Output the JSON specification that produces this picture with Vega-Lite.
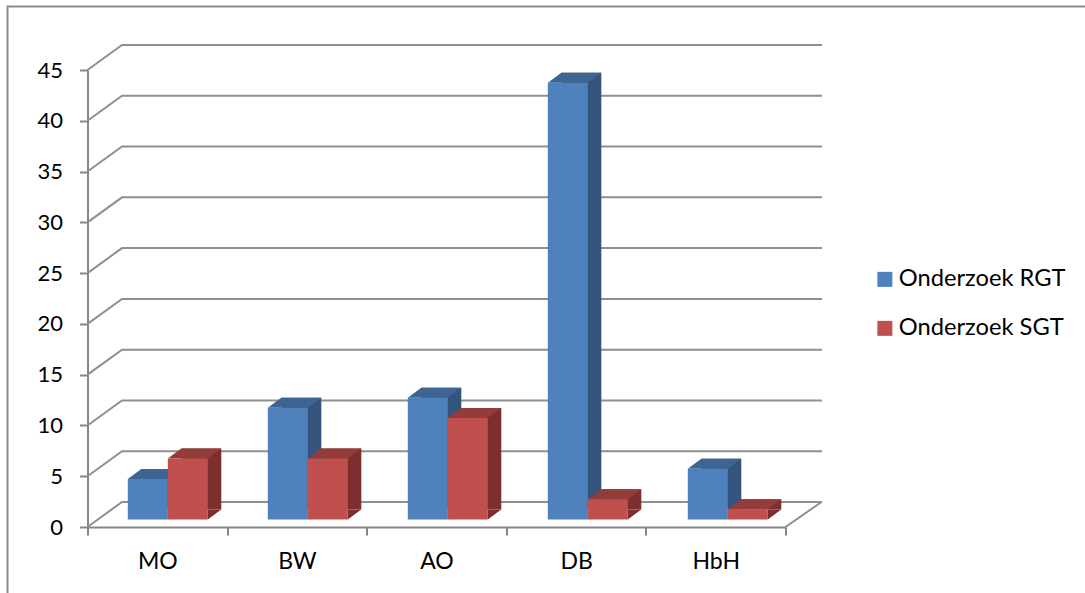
{
  "$schema": "https://vega.github.io/schema/vega-lite/v6.json",
  "width": 698,
  "height": 457,
  "autosize": "none",
  "padding": {"left": 87.5, "top": 70, "right": 299.5, "bottom": 66},
  "background": "white",
  "config": {"view": {"stroke": null}, "font": "Lato"},
  "resolve": {"scale": {"x": "independent", "y": "independent", "xOffset": "independent"}},
  "datasets": {
    "bars": [
      {"cat": "MO", "series": "Onderzoek RGT", "value": 4},
      {"cat": "MO", "series": "Onderzoek SGT", "value": 6},
      {"cat": "BW", "series": "Onderzoek RGT", "value": 11},
      {"cat": "BW", "series": "Onderzoek SGT", "value": 6},
      {"cat": "AO", "series": "Onderzoek RGT", "value": 12},
      {"cat": "AO", "series": "Onderzoek SGT", "value": 10},
      {"cat": "DB", "series": "Onderzoek RGT", "value": 43},
      {"cat": "DB", "series": "Onderzoek SGT", "value": 2},
      {"cat": "HbH", "series": "Onderzoek RGT", "value": 5},
      {"cat": "HbH", "series": "Onderzoek SGT", "value": 1}
    ],
    "grid": [{"v": 0}, {"v": 5}, {"v": 10}, {"v": 15}, {"v": 20}, {"v": 25}, {"v": 30}, {"v": 35}, {"v": 40}, {"v": 45}]
  },
  "layer": [
    {
      "encoding": {
        "x": {"datum": "MO", "type": "nominal", "scale": {"domain": ["MO", "BW", "AO", "DB", "HbH"], "paddingInner": 0, "paddingOuter": 0},
          "axis": {"title": null, "orient": "bottom", "domainColor": "#868686", "domainWidth": 2, "tickColor": "#868686", "tickWidth": 2, "tickSize": 8, "tickBand": "extent", "labelAngle": 0, "labelFont": "Lato", "labelFontSize": 23, "labelColor": "#000000", "labelPadding": 15}},
        "y": {"field": "v", "type": "quantitative", "scale": {"domain": [0, 45], "nice": false},
          "axis": {"title": null, "values": [0, 5, 10, 15, 20, 25, 30, 35, 40, 45], "grid": false, "domainColor": "#868686", "domainWidth": 2, "tickColor": "#868686", "tickWidth": 2, "tickSize": 8, "labelFont": "Lato", "labelFontSize": 22, "labelColor": "#000000", "labelPadding": 17}}
      },
      "layer": [
        {
          "data": {"values": [{"v": 0}]},
          "mark": {"type": "point", "filled": false, "opacity": 1, "strokeWidth": 2, "stroke": "#8c8c8c", "shape": "M-149.8,66L-149.8,-520.5L927.7,-520.5", "size": 4}
        },
        {
          "data": {"name": "grid"},
          "mark": {"type": "point", "filled": false, "opacity": 1, "strokeWidth": 2, "stroke": "#8f8f8f", "shape": "M-69.8,0L-35.3,-25L664.7,-25", "size": 4}
        },
        {
          "data": {"values": [{"v": 0}]},
          "mark": {"type": "point", "filled": false, "opacity": 1, "strokeWidth": 2, "stroke": "#8f8f8f", "shape": "M69.8,0L105.8,-25", "size": 4},
          "encoding": {"x": {"datum": "HbH", "type": "nominal"}}
        }
      ]
    },
    {
      "data": {"name": "bars"},
      "transform": [{"filter": "datum.series === 'Onderzoek RGT'"}],
      "encoding": {
        "x": {"field": "cat", "type": "nominal", "scale": {"domain": ["MO", "BW", "AO", "DB", "HbH"], "paddingInner": 0, "paddingOuter": 0, "range": [23.8, 723.8]}, "axis": null},
        "xOffset": {"field": "series", "type": "nominal", "scale": {"domain": ["Onderzoek RGT", "Onderzoek SGT"], "paddingInner": 0, "paddingOuter": 0.75}},
        "y": {"field": "value", "type": "quantitative", "stack": null, "scale": {"domain": [0, 45], "nice": false, "range": [439.5, -17.5]}, "axis": null}
      },
      "layer": [
        {"mark": {"type": "bar", "color": "#33547c"}},
        {"mark": {"type": "point", "filled": true, "opacity": 1, "strokeWidth": 0, "color": "#33547c", "shape": "M6.5,10L6.5,0L20,0Z", "size": 4},
         "encoding": {"y": {"datum": 0, "type": "quantitative"}}},
        {"mark": {"type": "point", "filled": true, "opacity": 1, "strokeWidth": 0, "color": "#3d6492", "shape": "M-33.5,10L6.5,10L20,0L-20,0Z", "size": 4}}
      ]
    },
    {
      "data": {"name": "bars"},
      "transform": [{"filter": "datum.series === 'Onderzoek RGT'"}],
      "mark": {"type": "bar"},
      "encoding": {
        "x": {"field": "cat", "type": "nominal", "scale": {"domain": ["MO", "BW", "AO", "DB", "HbH"], "paddingInner": 0, "paddingOuter": 0, "range": [10.3, 710.3]}, "axis": null},
        "xOffset": {"field": "series", "type": "nominal", "scale": {"domain": ["Onderzoek RGT", "Onderzoek SGT"], "paddingInner": 0, "paddingOuter": 0.75}},
        "y": {"field": "value", "type": "quantitative", "stack": null, "scale": {"domain": [0, 45], "nice": false, "range": [449.5, -7.5]}, "axis": null},
        "color": {"field": "series", "type": "nominal", "scale": {"domain": ["Onderzoek RGT", "Onderzoek SGT"], "range": ["#4f81bd", "#c0504d"]},
          "legend": {"title": null, "orient": "none", "legendX": 785.5, "legendY": 197.5, "symbolType": "square", "symbolSize": 225, "symbolStrokeWidth": 0, "labelFont": "Lato", "labelFontSize": 23.7, "labelColor": "#000000", "rowPadding": 24, "labelOffset": 2, "labelLimit": 220}}
      }
    },
    {
      "data": {"name": "bars"},
      "transform": [{"filter": "datum.series === 'Onderzoek SGT'"}],
      "encoding": {
        "x": {"field": "cat", "type": "nominal", "scale": {"domain": ["MO", "BW", "AO", "DB", "HbH"], "paddingInner": 0, "paddingOuter": 0, "range": [23.8, 723.8]}, "axis": null},
        "xOffset": {"field": "series", "type": "nominal", "scale": {"domain": ["Onderzoek RGT", "Onderzoek SGT"], "paddingInner": 0, "paddingOuter": 0.75}},
        "y": {"field": "value", "type": "quantitative", "stack": null, "scale": {"domain": [0, 45], "nice": false, "range": [439.5, -17.5]}, "axis": null}
      },
      "layer": [
        {"mark": {"type": "bar", "color": "#7c2f2e"}},
        {"mark": {"type": "point", "filled": true, "opacity": 1, "strokeWidth": 0, "color": "#7c2f2e", "shape": "M6.5,10L6.5,0L20,0Z", "size": 4},
         "encoding": {"y": {"datum": 0, "type": "quantitative"}}},
        {"mark": {"type": "point", "filled": true, "opacity": 1, "strokeWidth": 0, "color": "#943c3a", "shape": "M-33.5,10L6.5,10L20,0L-20,0Z", "size": 4}}
      ]
    },
    {
      "data": {"name": "bars"},
      "transform": [{"filter": "datum.series === 'Onderzoek SGT'"}],
      "mark": {"type": "bar"},
      "encoding": {
        "x": {"field": "cat", "type": "nominal", "scale": {"domain": ["MO", "BW", "AO", "DB", "HbH"], "paddingInner": 0, "paddingOuter": 0, "range": [10.3, 710.3]}, "axis": null},
        "xOffset": {"field": "series", "type": "nominal", "scale": {"domain": ["Onderzoek RGT", "Onderzoek SGT"], "paddingInner": 0, "paddingOuter": 0.75}},
        "y": {"field": "value", "type": "quantitative", "stack": null, "scale": {"domain": [0, 45], "nice": false, "range": [449.5, -7.5]}, "axis": null},
        "color": {"field": "series", "type": "nominal"}
      }
    }
  ]
}
